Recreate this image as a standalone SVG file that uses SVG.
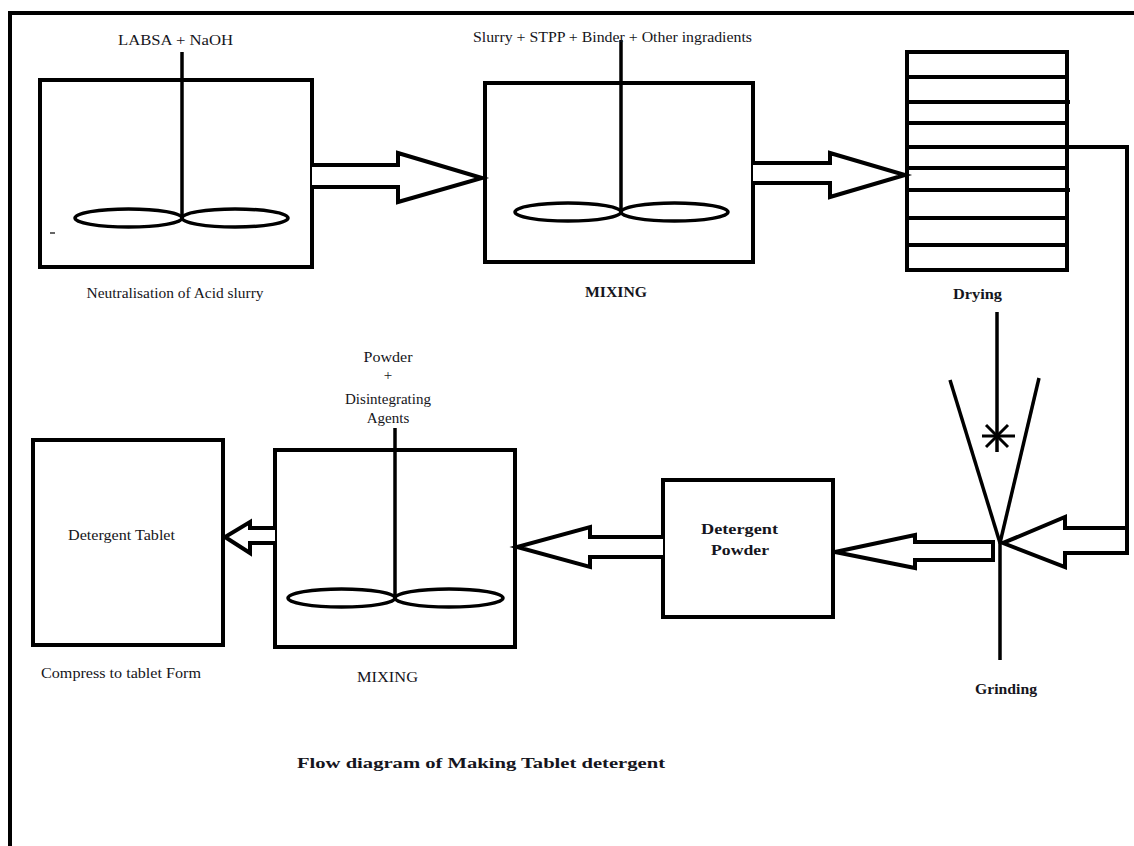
<svg xmlns="http://www.w3.org/2000/svg" width="1134" height="846" viewBox="0 0 1134 846">
<style>
.b{fill:none;stroke:#000;stroke-width:4}
.w{fill:#fff;stroke:#000;stroke-width:4;stroke-linejoin:miter}
.s{stroke:#000;stroke-width:3.5;fill:none}
.t{font-family:"Liberation Serif","Times New Roman",serif;font-size:15px;fill:#151520;text-anchor:middle}
.tb{font-family:"Liberation Serif","Times New Roman",serif;font-size:15px;font-weight:bold;fill:#151520;text-anchor:middle}
</style>
<rect width="1134" height="846" fill="#fff"/>
<path class="b" d="M10,846 V13 H1134"/>
<g id="neutralisation">
<rect class="b" x="40" y="80" width="272" height="187"/>
<line class="s" x1="182" y1="52" x2="182" y2="218"/>
<ellipse class="s" cx="128.5" cy="218" rx="53.5" ry="9"/>
<ellipse class="s" cx="235" cy="218" rx="53" ry="9"/>
<line x1="50" y1="233" x2="55" y2="233" stroke="#000" stroke-width="1.2"/>
<text class="t" x="175.5" y="45" font-size="16" textLength="115" lengthAdjust="spacingAndGlyphs">LABSA + NaOH</text>
<text class="t" x="175" y="298" textLength="177" lengthAdjust="spacingAndGlyphs">Neutralisation of Acid slurry</text>
</g>
<g id="mixing1">
<rect class="b" x="485" y="83" width="268" height="179"/>
<line class="s" x1="621" y1="40" x2="621" y2="212"/>
<ellipse class="s" cx="568" cy="212" rx="53" ry="9"/>
<ellipse class="s" cx="674.5" cy="212" rx="53.5" ry="9"/>
<text class="t" x="612.5" y="42" font-size="14.5" textLength="279" lengthAdjust="spacingAndGlyphs">Slurry + STPP + Binder + Other ingradients</text>
<text class="tb" x="616" y="297" font-size="14" textLength="62" lengthAdjust="spacingAndGlyphs">MIXING</text>
</g>
<g id="drying">
<rect class="b" x="907" y="52" width="160" height="218"/>
<g class="b">
<line x1="907" y1="77" x2="1067" y2="77"/>
<line x1="907" y1="102" x2="1070" y2="102"/>
<line x1="907" y1="123" x2="1067" y2="123"/>
<line x1="907" y1="147" x2="1067" y2="147"/>
<line x1="907" y1="168" x2="1067" y2="168"/>
<line x1="907" y1="190" x2="1070" y2="190"/>
<line x1="907" y1="218" x2="1067" y2="218"/>
<line x1="907" y1="245" x2="1067" y2="245"/>
</g>
<text class="tb" x="977.5" y="299" font-size="16" textLength="49" lengthAdjust="spacingAndGlyphs">Drying</text>
</g>
<g id="grinding">
<line class="s" x1="950" y1="380" x2="1000" y2="543"/>
<line class="s" x1="1039" y1="378" x2="1000" y2="543"/>
<line class="s" x1="1000" y1="543" x2="1000" y2="660"/>
<line class="s" x1="997" y1="312" x2="997" y2="452"/>
<g stroke="#000" stroke-width="3">
<line x1="982" y1="436" x2="1015" y2="436"/>
<line x1="986" y1="425" x2="1008" y2="447"/>
<line x1="1008" y1="425" x2="986" y2="447"/>
</g>
<text class="tb" x="1006" y="694" font-size="16" textLength="62" lengthAdjust="spacingAndGlyphs">Grinding</text>
</g>
<g id="powder">
<rect class="b" x="663" y="480" width="170" height="137"/>
<text class="tb" x="739.5" y="534" font-size="19" textLength="77" lengthAdjust="spacingAndGlyphs">Detergent</text>
<text class="tb" x="740" y="555" font-size="19" textLength="58" lengthAdjust="spacingAndGlyphs">Powder</text>
</g>
<g id="mixing2">
<rect class="b" x="275" y="450" width="240" height="197"/>
<line class="s" x1="395" y1="428" x2="395" y2="598"/>
<ellipse class="s" cx="341.5" cy="598" rx="53.5" ry="9"/>
<ellipse class="s" cx="449" cy="598" rx="54" ry="9"/>
<text class="t" x="388" y="362" font-size="14" textLength="49" lengthAdjust="spacingAndGlyphs">Powder</text>
<text class="t" x="388" y="380" font-size="11">+</text>
<text class="t" x="388" y="404" font-size="14" textLength="86" lengthAdjust="spacingAndGlyphs">Disintegrating</text>
<text class="t" x="388" y="423" font-size="14">Agents</text>
<text class="t" x="387.5" y="682" textLength="61" lengthAdjust="spacingAndGlyphs">MIXING</text>
</g>
<g id="tablet">
<rect class="b" x="33" y="440" width="190" height="205"/>
<text class="t" x="121.5" y="540" font-size="16" textLength="107" lengthAdjust="spacingAndGlyphs">Detergent Tablet</text>
<text class="t" x="121" y="678" textLength="160" lengthAdjust="spacingAndGlyphs">Compress to tablet Form</text>
</g>
<g id="connectors">
<path class="w" d="M312,165 L398,165 L398,153 L482,178 L398,202 L398,187 L312,187"/>
<path class="w" d="M753,163 L830,163 L830,153 L905,175 L830,197 L830,183 L753,183"/>
<path class="b" d="M1067,147 H1127 V553"/>
<path class="w" d="M1127,528 L1065,528 L1065,517 L1003,543 L1065,567 L1065,553 L1127,553 Z"/>
<path class="w" d="M993,542 L915,542 L915,535 L835,552 L915,568 L915,560 L993,560 Z"/>
<path class="w" d="M663,537 L590,537 L590,527 L517,547 L590,567 L590,557 L663,557"/>
<path class="w" d="M275,528 L250,528 L250,522 L225,537 L250,553 L250,543 L275,543"/>
</g>
<text class="tb" x="481" y="768" font-size="21" textLength="368" lengthAdjust="spacingAndGlyphs">Flow diagram of Making Tablet detergent</text>
</svg>
